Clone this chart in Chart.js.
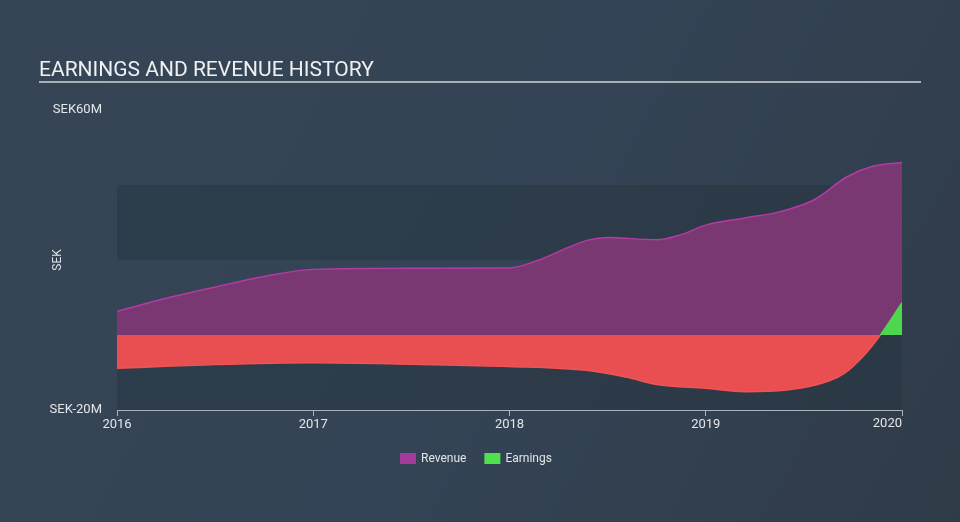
<!DOCTYPE html>
<html>
<head>
<meta charset="utf-8">
<script src="https://cdn.jsdelivr.net/npm/chart.js@4/dist/chart.umd.min.js"></script>
<style>
  html, body { margin: 0; padding: 0; background: #334152; }
  #wrap { width: 960px; height: 522px; position: relative; }
</style>
</head>
<body>
<div id="wrap"><canvas id="chart" width="960" height="522"></canvas></div>
<script>
// values in SEK millions, x = decimal year
const revenueDates  = [2016.0, 2016.25, 2016.5, 2016.75, 2017.0, 2017.5, 2018.0, 2018.15, 2018.27, 2018.4, 2018.5, 2018.75, 2018.87, 2019.0, 2019.2, 2019.38, 2019.55, 2019.72, 2019.85, 2020.0];
const revenueValues = [6.3, 9.8, 12.8, 15.6, 17.5, 17.8, 17.9, 20.0, 22.7, 25.3, 26.0, 25.4, 26.7, 29.3, 31.2, 32.9, 36.0, 42.2, 45.0, 46.0];

const earningsDates  = [2016.0, 2016.5, 2017.0, 2017.5, 2018.0, 2018.42, 2018.6, 2018.75, 2019.0, 2019.2, 2019.41, 2019.63, 2019.71, 2019.8, 2019.89, 2020.0];
const earningsValues = [-8.9, -7.9, -7.4, -7.8, -8.4, -9.6, -11.3, -13.2, -14.2, -15.1, -14.7, -12.2, -10.1, -5.8, 0, 8.6];

const tickYears = [2016, 2017, 2018, 2019, 2020];
const yTickValues = [-20, 60];
const bandEdges = [-20, 0, 20, 40, 60];

const legendNames = ["Revenue", "Earnings"];
const legendColors = ["#a33b9c", "#4fe04f"];

const toPoints = (xs, ys) => xs.map((x, i) => ({ x: x, y: ys[i] }));
const lastYear = tickYears[tickYears.length - 1];

// background, title and plot bands
const decorPlugin = {
  id: "decor",
  beforeDraw(chart) {
    const ctx = chart.ctx;
    const g = ctx.createLinearGradient(0, 0, 960, 522);
    g.addColorStop(0, "#354555");
    g.addColorStop(0.5, "#344456");
    g.addColorStop(1, "#303b48");
    ctx.save();
    ctx.fillStyle = g;
    ctx.fillRect(0, 0, chart.width, chart.height);

    // title
    ctx.fillStyle = "#eef0f2";
    ctx.font = "21px Roboto";
    ctx.textBaseline = "alphabetic";
    ctx.fillText("EARNINGS AND REVENUE HISTORY", 39, 76);
    ctx.fillStyle = "#a9afb6";
    ctx.fillRect(39, 81, 882, 2);

    // alternating bands
    const area = chart.chartArea;
    const y = chart.scales.y;
    for (let i = 0; i < bandEdges.length - 1; i++) {
      if (i % 2 === 0) {
        const top = y.getPixelForValue(bandEdges[i + 1]);
        const bottom = y.getPixelForValue(bandEdges[i]);
        ctx.fillStyle = "rgba(38, 50, 62, 0.45)";
        ctx.fillRect(area.left, top, area.right - area.left, bottom - top);
      }
    }

    // axis title
    ctx.translate(61, (area.top + area.bottom) / 2);
    ctx.rotate(-Math.PI / 2);
    ctx.fillStyle = "#dfe3e7";
    ctx.font = "12px Roboto";
    ctx.textAlign = "center";
    ctx.fillText("SEK", 0, 0);
    ctx.restore();
  },
  afterDraw(chart) {
    const ctx = chart.ctx;
    ctx.save();
    // last year label sits flush with the end of the axis
    ctx.font = "13px Roboto";
    ctx.fillStyle = "#e3e6e9";
    ctx.textAlign = "right";
    ctx.textBaseline = "top";
    ctx.fillText(String(lastYear), chart.scales.x.getPixelForValue(lastYear), chart.chartArea.bottom + 7);

    // legend under the axis
    ctx.font = "12px Roboto";
    ctx.textAlign = "left";
    ctx.textBaseline = "middle";
    let x = 400;
    legendNames.forEach((name, i) => {
      ctx.fillStyle = legendColors[i];
      ctx.fillRect(x, 453, 16, 11);
      ctx.fillStyle = "#e3e6e9";
      ctx.fillText(name, x + 21, 458.5);
      x += 21 + ctx.measureText(name).width + 18;
    });
    ctx.restore();
  }
};

const ctx = document.getElementById("chart").getContext("2d");
new Chart(ctx, {
  type: "line",
  data: {
    datasets: [
      {
        label: "Revenue",
        data: toPoints(revenueDates, revenueValues),
        borderColor: "#b43aa4",
        borderWidth: 1.5,
        fill: { target: "origin", above: "#7a3873", below: "#7a3873" },
        pointRadius: 0,
        cubicInterpolationMode: "monotone",
        order: 2
      },
      {
        label: "Earnings",
        data: toPoints(earningsDates, earningsValues),
        borderColor: "#f05252",
        borderWidth: 1.5,
        fill: { target: "origin", above: "#4fd64f", below: "#e94e50" },
        segment: {
          borderColor: (c) => (c.p1.parsed.y > 0 ? "#4fd64f" : "#f25353")
        },
        pointRadius: 0,
        cubicInterpolationMode: "monotone",
        order: 1
      }
    ]
  },
  options: {
    responsive: false,
    animation: false,
    layout: { padding: { top: 110, right: 58, left: 0, bottom: 82 } },
    scales: {
      x: {
        type: "linear",
        min: 2016,
        max: 2020,
        afterBuildTicks: (scale) => {
          scale.ticks = tickYears.map((v) => ({ value: v }));
        },
        afterFit: (scale) => { scale.height = 30; },
        ticks: {
          color: "#e3e6e9",
          font: { family: "Roboto", size: 13 },
          padding: 1,
          maxRotation: 0,
          callback: (v) => (v === lastYear ? "" : String(v))
        },
        grid: { drawOnChartArea: false, color: "#a9b3bd", tickLength: 6 },
        border: { color: "#a9b3bd", width: 1 }
      },
      y: {
        min: -20,
        max: 60,
        afterBuildTicks: (scale) => {
          scale.ticks = yTickValues.map((v) => ({ value: v }));
        },
        afterFit: (scale) => { scale.width = 117; },
        ticks: {
          color: "#e3e6e9",
          font: { family: "Roboto", size: 13 },
          padding: 15,
          callback: (v) => "SEK" + v + "M"
        },
        grid: { display: false, drawTicks: false },
        border: { display: false }
      }
    },
    plugins: {
      legend: { display: false },
      tooltip: { enabled: false }
    }
  },
  plugins: [decorPlugin]
});
</script>
</body>
</html>
